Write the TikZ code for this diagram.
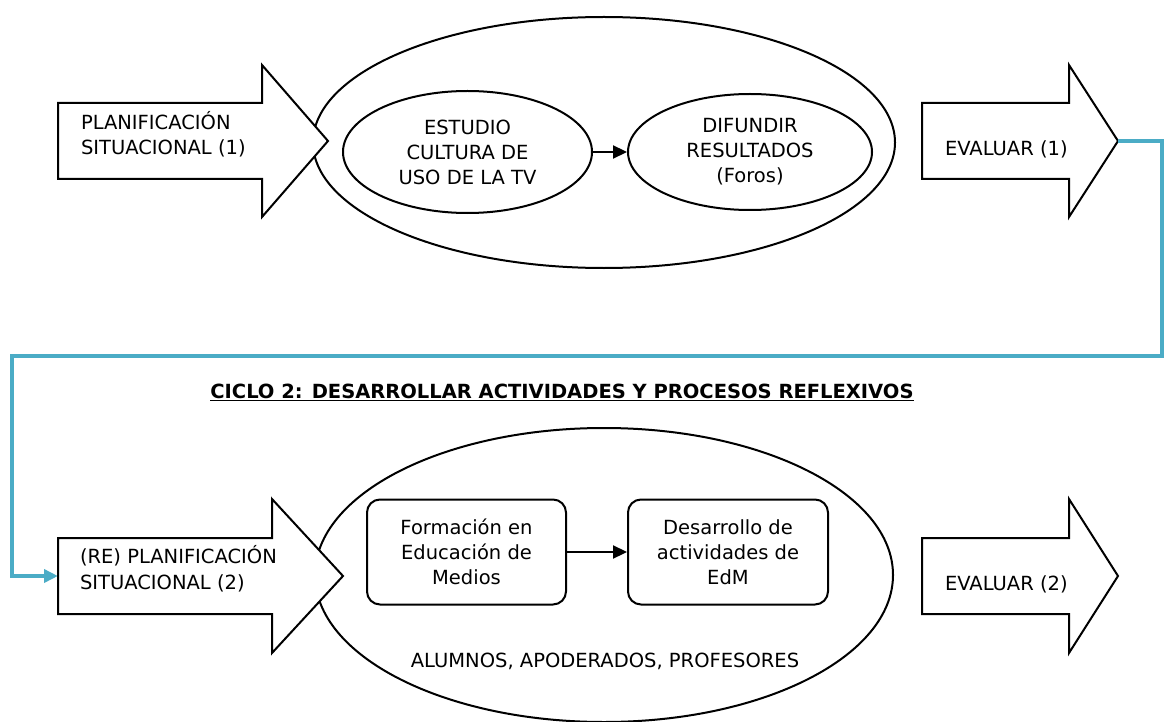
\documentclass[tikz,border=0pt]{standalone}
\usepackage{fontspec}
\setmainfont{DejaVu Sans}
\usetikzlibrary{shapes.geometric,arrows.meta}
\definecolor{cblue}{HTML}{4BACC6}
\begin{document}
\begin{tikzpicture}[x=1pt,y=-1pt,line width=2pt,
  txt/.style={font=\fontsize{19.5}{25}\selectfont,inner sep=0pt},
  ell/.style={draw,ellipse,inner sep=0pt,font=\fontsize{19.5}{25}\selectfont,align=center},
  rbox/.style={draw,rounded corners=13pt,inner sep=0pt,font=\fontsize{19.5}{25}\selectfont,align=center},
  bigarrow/.style={draw,fill=white,line join=miter},
  link/.style={-{Triangle[length=14pt,width=13pt]},line width=2.2pt},
  blueline/.style={draw=cblue,line width=3.5pt,-{Triangle[length=14pt,width=13pt]}}]
\useasboundingbox (0,0) rectangle (1164,722);

% ---------- Cycle 1 ----------
\node[ell,minimum width=582pt,minimum height=251pt] (big1) at (604,142.5) {};
\node[ell,minimum width=249pt,minimum height=122pt] (est) at (467.5,152) {ESTUDIO\\CULTURA DE\\USO DE LA TV};
\node[ell,minimum width=244pt,minimum height=116pt] (dif) at (750,152) {DIFUNDIR\\RESULTADOS\\(Foros)};
\draw[link] (est.east) -- (dif.west);

\draw[bigarrow] (58,103) -- (262,103) -- (262,65) -- (328,141) -- (262,217) -- (262,179) -- (58,179) -- cycle;
\node[txt,anchor=base west] (p1a) at (80,130) {PLANIFICACIÓN};
\node[txt,anchor=base west] (p1b) at (80,155) {SITUACIONAL (1)};

\draw[bigarrow] (922,103) -- (1069,103) -- (1069,65) -- (1118,141) -- (1069,217) -- (1069,179) -- (922,179) -- cycle;
\coordinate (e1tip) at (1118,141);
\node[txt,anchor=base west] (e1) at (944,156) {EVALUAR (1)};

% ---------- connector ----------
\coordinate (p2w) at (58,576);
\draw[blueline] (e1tip) -- (1162,141) |- (12,356) |- (p2w);

% ---------- title ----------
\node[txt,font=\fontsize{19.5}{25}\selectfont\bfseries] (title) at (562,392)
  {\underline{CICLO 2: DESARROLLAR ACTIVIDADES Y PROCESOS REFLEXIVOS}};

% ---------- Cycle 2 ----------
\node[ell,minimum width=578pt,minimum height=294pt] (big2) at (604,575) {};
\node[rbox,minimum width=199pt,minimum height=105pt] (form) at (466.5,552) {Formación en\\Educación de\\Medios};
\node[rbox,minimum width=200pt,minimum height=105pt] (des) at (728,552) {Desarrollo de\\actividades de\\EdM};
\draw[link] (form.east) -- (des.west);
\node[txt] (who) at (605,661) {ALUMNOS, APODERADOS, PROFESORES};

\draw[bigarrow] (58,538) -- (272,538) -- (272,499) -- (343,576) -- (272,653) -- (272,614) -- (58,614) -- cycle;
\node[txt,anchor=base west] (p2a) at (79,563) {(RE) PLANIFICACIÓN};
\node[txt,anchor=base west] (p2b) at (79,589) {SITUACIONAL (2)};

\draw[bigarrow] (922,538) -- (1069,538) -- (1069,499) -- (1118,576) -- (1069,653) -- (1069,614) -- (922,614) -- cycle;
\node[txt,anchor=base west] (e2) at (944,590) {EVALUAR (2)};
\end{tikzpicture}
\end{document}
